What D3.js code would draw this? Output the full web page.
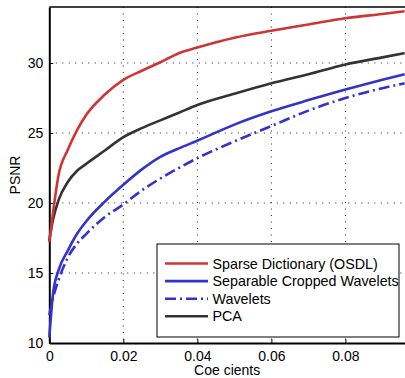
<!DOCTYPE html>
<html>
<head>
<meta charset="utf-8">
<script src="https://cdn.jsdelivr.net/npm/d3@7"></script>
<style>
  html, body { margin: 0; padding: 0; background: #fff; }
  svg { display: block; font-family: "Liberation Sans", Arial, sans-serif; }
</style>
</head>
<body>
<div id="chart"></div>
<script>
// data
var coef = [0, 0.001, 0.0025, 0.005, 0.0075, 0.01, 0.015, 0.02, 0.025, 0.03, 0.035, 0.04, 0.05, 0.06, 0.07, 0.08, 0.09, 0.096];
var osdl = [17.2, 19.3, 22.0, 23.8, 25.2, 26.3, 27.75, 28.8, 29.45, 30.05, 30.7, 31.1, 31.8, 32.3, 32.75, 33.2, 33.5, 33.7];
var cropped = [10.4, 13.5, 15.2, 16.6, 17.8, 18.7, 20.1, 21.3, 22.4, 23.3, 23.9, 24.45, 25.6, 26.55, 27.35, 28.1, 28.8, 29.2];
var wavelets = [12.0, 13.2, 14.5, 16.1, 17.1, 17.8, 19.0, 19.9, 20.9, 21.75, 22.5, 23.2, 24.4, 25.5, 26.6, 27.5, 28.2, 28.55];
var pca = [17.3, 18.8, 20.2, 21.5, 22.3, 22.8, 23.75, 24.7, 25.35, 25.9, 26.45, 27.0, 27.8, 28.55, 29.2, 29.9, 30.4, 30.7];
var seriesNames = ["Sparse Dictionary (OSDL)", "Separable Cropped Wavelets", "Wavelets", "PCA"];
var xTicks = [0, 0.02, 0.04, 0.06, 0.08];
var yTicks = [10, 15, 20, 25, 30];

var W = 405, H = 378;
var margin = { top: 7, right: 0, bottom: 35, left: 49.3 };
var width = W - margin.left - margin.right,
    height = H - margin.top - margin.bottom;

var x = d3.scaleLinear().domain([0, 0.0961]).range([0, width]);
var y = d3.scaleLinear().domain([10, 34]).range([height, 0]);

var svg = d3.select("#chart").append("svg")
  .attr("width", W).attr("height", H);
var g = svg.append("g")
  .attr("transform", "translate(" + margin.left + "," + margin.top + ")");

// dotted grid
g.append("g").selectAll("line").data(xTicks.slice(1)).enter().append("line")
  .attr("x1", d => x(d)).attr("x2", d => x(d))
  .attr("y1", 0).attr("y2", height)
  .attr("stroke", "#222").attr("stroke-width", 1).attr("stroke-dasharray", "1,5.5");
g.append("g").selectAll("line").data(yTicks.slice(1)).enter().append("line")
  .attr("y1", d => y(d)).attr("y2", d => y(d))
  .attr("x1", 0).attr("x2", width)
  .attr("stroke", "#222").attr("stroke-width", 1).attr("stroke-dasharray", "1,5.5");

// axes
var xAxis = g.append("g")
  .attr("transform", "translate(0," + height + ")")
  .call(d3.axisBottom(x).tickValues(xTicks).tickSizeInner(-4).tickSizeOuter(0).tickPadding(8)
    .tickFormat(d => d === 0 ? "0" : d3.format(".2f")(d)));
var yAxis = g.append("g")
  .call(d3.axisLeft(y).tickValues(yTicks).tickSizeInner(-4).tickSizeOuter(0).tickPadding(6));
[xAxis, yAxis].forEach(function (a) {
  a.select(".domain").attr("stroke", "#000").attr("stroke-width", 2);
  a.selectAll(".tick line").attr("stroke", "#000").attr("stroke-width", 1);
  a.selectAll("text").attr("font-size", "14px").attr("fill", "#000")
    .attr("font-family", "Liberation Sans, Arial, sans-serif");
});
// top border
g.append("line").attr("x1", 0).attr("x2", width).attr("y1", 0).attr("y2", 0)
  .attr("stroke", "#000").attr("stroke-width", 1.5);

// lines
var series = [
  { name: seriesNames[0], vals: osdl, color: "#d23333", dash: null },
  { name: seriesNames[1], vals: cropped, color: "#3333cc", dash: null },
  { name: seriesNames[2], vals: wavelets, color: "#3333cc", dash: "11,4,2,4" },
  { name: seriesNames[3], vals: pca, color: "#333333", dash: null }
];
var line = d3.line()
  .x(function (d, i) { return x(coef[i]); })
  .y(function (d) { return y(d); })
  .curve(d3.curveMonotoneX);
var draw = [series[3], series[2], series[1], series[0]];
g.append("g").selectAll("path").data(draw).enter().append("path")
  .attr("d", d => line(d.vals))
  .attr("fill", "none")
  .attr("stroke", d => d.color)
  .attr("stroke-width", 2.6)
  .attr("stroke-dasharray", d => d.dash);

// axis labels
svg.append("text")
  .attr("x", margin.left + width / 2).attr("y", 375)
  .attr("text-anchor", "middle").attr("font-size", "14px")
  .text("Coe  cients");
svg.append("text")
  .attr("transform", "translate(19.5," + (margin.top + height / 2) + ") rotate(-90)")
  .attr("text-anchor", "middle").attr("font-size", "14px")
  .text("PSNR");

// legend
var lg = svg.append("g");
lg.append("rect")
  .attr("x", 157).attr("y", 244).attr("width", 242).attr("height", 93)
  .attr("fill", "#fff").attr("stroke", "#000").attr("stroke-width", 1);
series.forEach(function (s, i) {
  var yy = 263.5 + i * 17.6;
  lg.append("line")
    .attr("x1", 165).attr("x2", 208).attr("y1", yy).attr("y2", yy)
    .attr("stroke", s.color).attr("stroke-width", 2.6)
    .attr("stroke-dasharray", s.dash);
  lg.append("text")
    .attr("x", 212.5).attr("y", yy + 5)
    .attr("font-size", "14.3px")
    .text(s.name);
});
</script>
</body>
</html>
